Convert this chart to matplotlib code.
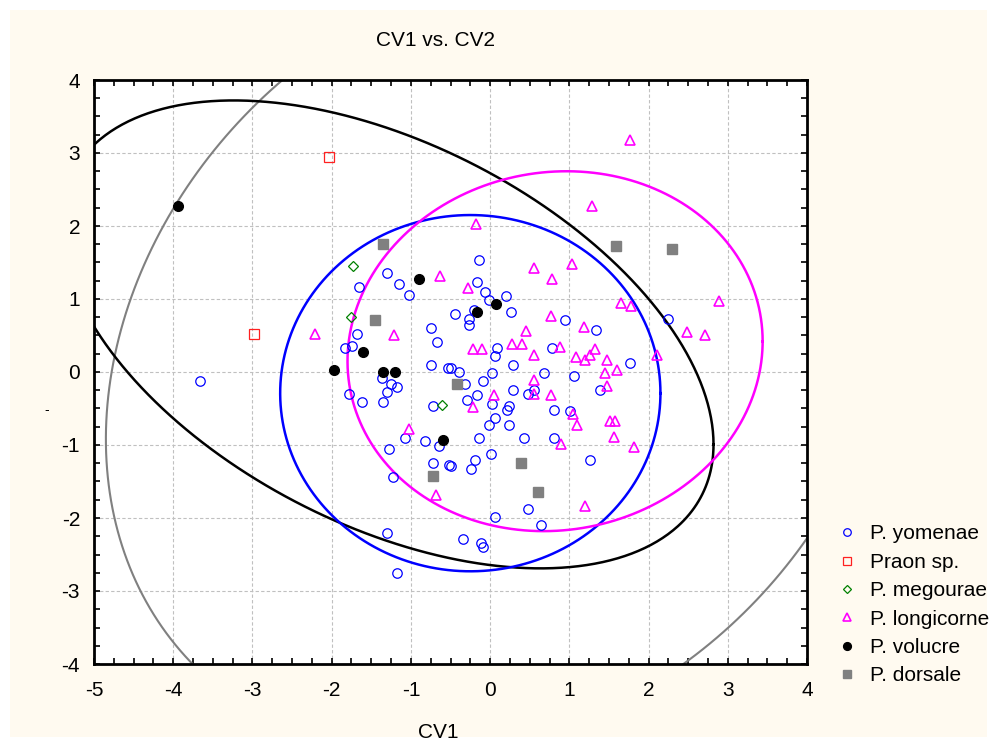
import numpy as np
import matplotlib.pyplot as plt
from matplotlib.patches import Rectangle
from matplotlib.ticker import MultipleLocator

plt.rcParams['font.family'] = ['Liberation Sans', 'DejaVu Sans']
plt.rcParams['axes.unicode_minus'] = False

# canonical scores per species
yomenae_x = [-3.66, -1.30, -1.65, -1.15, -1.02, -0.74, -0.67, -1.68, -1.74, -1.83,
             -0.74, -0.53, -1.37, -1.25, -1.30, -1.17, -1.78, -1.62, -1.35, -0.72,
             -1.07, -0.82, -0.64, -1.27, -0.72, -0.52, -1.22, -1.30, -1.17, -0.32,
             -0.09, -0.16, -0.29, 0.03, 0.06, -0.02, -0.14, 0.01, -0.19, -0.24,
             -0.49, 0.06, -0.34, -0.12, -0.09, -0.14, -0.16, -0.07, -0.02, -0.20,
             -0.44, -0.27, -0.27, 0.09, 0.06, -0.49, -0.39, 0.03, 0.20, 0.26,
             0.94, 1.34, 0.78, 0.29, 0.68, 1.06, 1.77, 2.25, 0.56, 0.29,
             1.39, 0.48, 0.21, 0.24, 0.24, 0.81, 1.01, 0.43, 0.81, 1.26,
             0.48, 0.64]
yomenae_y = [-0.13, 1.36, 1.17, 1.20, 1.06, 0.60, 0.41, 0.52, 0.36, 0.33,
             0.09, 0.06, -0.08, -0.16, -0.27, -0.21, -0.30, -0.41, -0.41, -0.46,
             -0.90, -0.95, -1.01, -1.06, -1.25, -1.28, -1.44, -2.21, -2.75, -0.16,
             -0.12, -0.32, -0.38, -0.44, -0.63, -0.73, -0.90, -1.12, -1.20, -1.33,
             -1.29, -1.99, -2.29, -2.34, -2.40, 1.53, 1.23, 1.09, 0.98, 0.85,
             0.79, 0.72, 0.65, 0.33, 0.22, 0.06, 0.00, -0.02, 1.04, 0.82,
             0.71, 0.57, 0.33, 0.09, -0.02, -0.05, 0.13, 0.73, -0.24, -0.24,
             -0.24, -0.30, -0.52, -0.46, -0.73, -0.52, -0.54, -0.90, -0.90, -1.20,
             -1.88, -2.10]

praon_x = [-2.03, -2.98]
praon_y = [2.95, 0.52]

megourae_x = [-1.73, -1.76, -0.61]
megourae_y = [1.45, 0.75, -0.45]

longicorne_x = [-2.21, -1.21, -0.63, -0.28, -0.21, -0.10, 1.76, 1.28, -0.18, 0.55,
                1.03, 0.78, 1.65, 1.78, 2.89, 2.48, 2.71, 2.11, 0.77, 0.45,
                0.27, 0.40, 0.55, 0.88, 1.18, 1.08, 1.20, 1.26, 1.33, 1.48,
                1.60, 1.45, 0.55, 1.48, 0.05, 0.55, 0.77, 1.05, 1.10, 1.51,
                1.58, 1.56, 0.90, 1.81, 1.20, -0.21, -1.03, -0.68]
longicorne_y = [0.52, 0.50, 1.32, 1.15, 0.31, 0.31, 3.18, 2.27, 2.03, 1.43,
                1.48, 1.27, 0.94, 0.91, 0.97, 0.55, 0.50, 0.23, 0.77, 0.56,
                0.39, 0.39, 0.23, 0.34, 0.62, 0.20, 0.17, 0.23, 0.31, 0.17,
                0.03, -0.01, -0.11, -0.19, -0.31, -0.30, -0.31, -0.58, -0.73, -0.67,
                -0.67, -0.89, -0.98, -1.03, -1.84, -0.48, -0.78, -1.68]

volucre_x = [-3.94, -0.90, -1.60, -1.97, -1.35, -1.20, -0.17, 0.08, -0.59]
volucre_y = [2.27, 1.28, 0.27, 0.03, 0.00, 0.00, 0.82, 0.93, -0.93]

dorsale_x = [-1.35, -1.45, 1.59, 2.29, -0.42, -0.72, 0.39, 0.61]
dorsale_y = [1.75, 0.71, 1.72, 1.69, -0.16, -1.42, -1.25, -1.64]

# 95% ellipses: centre, half extent in x and y, correlation
ell_center = {'yomenae': (-0.25, -0.29), 'longicorne': (0.82, 0.285),
              'volucre': (-1.30, 0.515), 'dorsale': (0.12, 0.18)}
ell_extent = {'yomenae': (2.40, 2.44), 'longicorne': (2.62, 2.465),
              'volucre': (4.12, 3.205), 'dorsale': (4.97, 5.42)}
ell_corr = {'yomenae': 0.0, 'longicorne': 0.055, 'volucre': -0.47, 'dorsale': 0.203}
ell_color = {'yomenae': '#0000ff', 'longicorne': '#ff00ff',
             'volucre': '#000000', 'dorsale': '#808080'}

fig = plt.figure(figsize=(9.97, 7.47), dpi=100, facecolor='white')
fig.patches.append(Rectangle((10 / 997, 10 / 747), 977 / 997, 727 / 747,
                             transform=fig.transFigure, facecolor='#fffaf0',
                             edgecolor='none', zorder=-10))
ax = fig.add_axes([94 / 997, 1 - 664 / 747, 713 / 997, 584 / 747])
ax.set_facecolor('white')

t = np.linspace(0, 2 * np.pi, 600)
for key in ['dorsale', 'volucre', 'yomenae', 'longicorne']:
    cx, cy = ell_center[key]
    sx, sy = ell_extent[key]
    r = ell_corr[key]
    ex = cx + sx * np.cos(t)
    ey = cy + sy * (r * np.cos(t) + np.sqrt(1 - r ** 2) * np.sin(t))
    ax.plot(ex, ey, color=ell_color[key], lw=1.8 if key != 'dorsale' else 1.5, zorder=2)

ax.plot(yomenae_x, yomenae_y, 'o', ms=6.8, mfc='none', mec='#0000ff', mew=0.9,
        label='P. yomenae', zorder=3)
ax.plot(praon_x, praon_y, 's', ms=7.5, mfc='none', mec='#ff2020', mew=0.9,
        label='Praon sp.', zorder=3)
ax.plot(megourae_x, megourae_y, 'D', ms=5.5, mfc='none', mec='#008000', mew=0.9,
        label='P. megourae', zorder=3)
ax.plot(longicorne_x, longicorne_y, '^', ms=7.5, mfc='none', mec='#ff00ff', mew=1.2,
        label='P. longicorne', zorder=3)
ax.plot(volucre_x, volucre_y, 'o', ms=7, color='black', label='P. volucre', zorder=3)
ax.plot(dorsale_x, dorsale_y, 's', ms=7.5, color='#808080', label='P. dorsale', zorder=3)

ax.set_xlim(-5, 4)
ax.set_ylim(-4, 4)
ax.xaxis.set_major_locator(MultipleLocator(1))
ax.yaxis.set_major_locator(MultipleLocator(1))
ax.xaxis.set_minor_locator(MultipleLocator(0.25))
ax.yaxis.set_minor_locator(MultipleLocator(0.25))
ax.tick_params(which='both', direction='in', top=True, right=True, width=1.2)
ax.tick_params(which='major', length=4, labelsize=15)
ax.tick_params(which='minor', length=4)
ax.tick_params(axis='x', which='major', pad=12)
ax.tick_params(axis='y', which='major', pad=10)
for s in ax.spines.values():
    s.set_linewidth(2)
ax.grid(True, which='major', color='#c0c0c0', linestyle=(0, (3, 2)), lw=0.8, zorder=1)
ax.set_axisbelow(True)

fig.text(435 / 997, 1 - 40 / 747, 'CV1 vs. CV2', ha='center', va='center', fontsize=15)
fig.text(438 / 997, 1 - 733 / 747, 'CV1', ha='center', va='center', fontsize=15)
fig.text(47 / 997, 1 - 410 / 747, '-', ha='center', va='center', fontsize=10)

leg = fig.legend(loc='upper left', bbox_to_anchor=(826 / 997, 1 - 514 / 747),
                 frameon=False, fontsize=15, handlelength=1.0, handletextpad=0.6,
                 labelspacing=0.45, markerscale=0.8, borderpad=0)

fig.savefig('out.png', dpi=100, facecolor=fig.get_facecolor())
